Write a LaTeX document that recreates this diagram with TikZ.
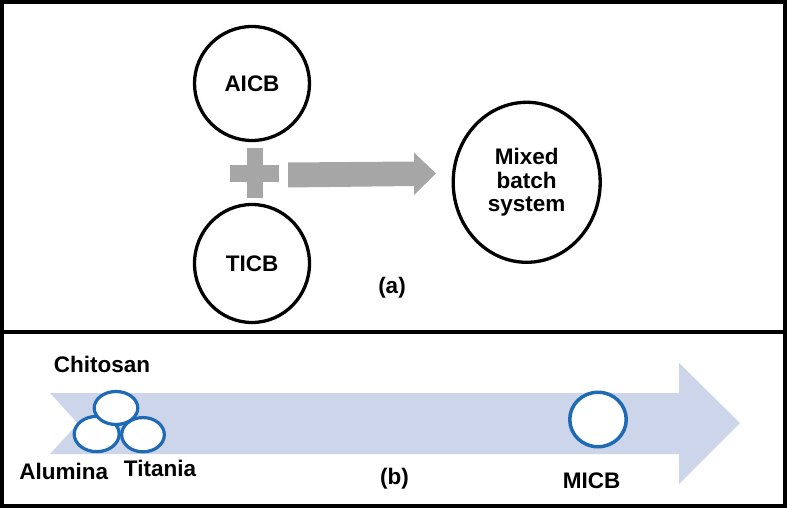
\documentclass[tikz,border=0pt]{standalone}
\usepackage{fontspec}
\setmainfont{Liberation Sans}
\usetikzlibrary{shapes.geometric}
\definecolor{plusgray}{HTML}{A6A6A6}
\definecolor{bandblue}{HTML}{CDD5EA}
\definecolor{ringblue}{HTML}{1F6AB4}
\tikzset{
  lbl/.style={font=\fontsize{22.5}{23.5}\selectfont\bfseries, inner sep=0pt, align=center},
  bigring/.style={ellipse, draw=black, line width=3.3pt, fill=white, inner sep=0pt, lbl},
  smallring/.style={ellipse, draw=ringblue, line width=3.2pt, fill=white, inner sep=0pt},
}
\begin{document}
\begin{tikzpicture}[x=1pt,y=-1pt]
\useasboundingbox (0,0) rectangle (787,508);
% frames
\draw[line width=3.8pt] (1.8,2) rectangle (785,506);
\draw[line width=4pt] (1.8,332) -- (785,332);
% panel (a)
\node[bigring, minimum width=115pt, minimum height=114pt] (aicb) at (252,83.5) {AICB};
\node[bigring, minimum width=115pt, minimum height=118pt] (ticb) at (252,263.5) {TICB};
\node[bigring, minimum width=147pt, minimum height=160pt] (mixed) at (526.7,182.3) {Mixed\\batch\\system};
\fill[plusgray] (230,165) rectangle (279,182);
\fill[plusgray] (247,148) rectangle (263,198);
\fill[plusgray] (288,162.5) -- (414,161.5) -- (414,152.5) -- (436,173.5) -- (414,195) -- (414,186) -- (288,187.5) -- cycle;
\node[lbl] (labela) at (392,288) {(a)};
% panel (b)
\fill[bandblue] (50,393) -- (679,393) -- (679,363) -- (740,423) -- (679,484) -- (679,454) -- (50,454) -- (78,423.5) -- cycle;
\node[smallring, minimum width=45pt, minimum height=35.3pt] (alum) at (96.7,434) {};
\node[smallring, minimum width=42.7pt, minimum height=34.3pt] (tita) at (143,434.7) {};
\node[smallring, minimum width=43.6pt, minimum height=33pt] (chit) at (116,408) {};
\node[smallring, line width=3.5pt, minimum width=56.5pt, minimum height=54.5pt] (micb) at (598,419.5) {};
\node[lbl] (chitlbl) at (102,364) {Chitosan};
\node[lbl] (alumlbl) at (63.8,471.5) {Alumina};
\node[lbl] (titalbl) at (160,468.3) {Titania};
\node[lbl] (labelb) at (394.5,479) {(b)};
\node[lbl] (micblbl) at (591.7,480.5) {MICB};
\end{tikzpicture}
\end{document}
